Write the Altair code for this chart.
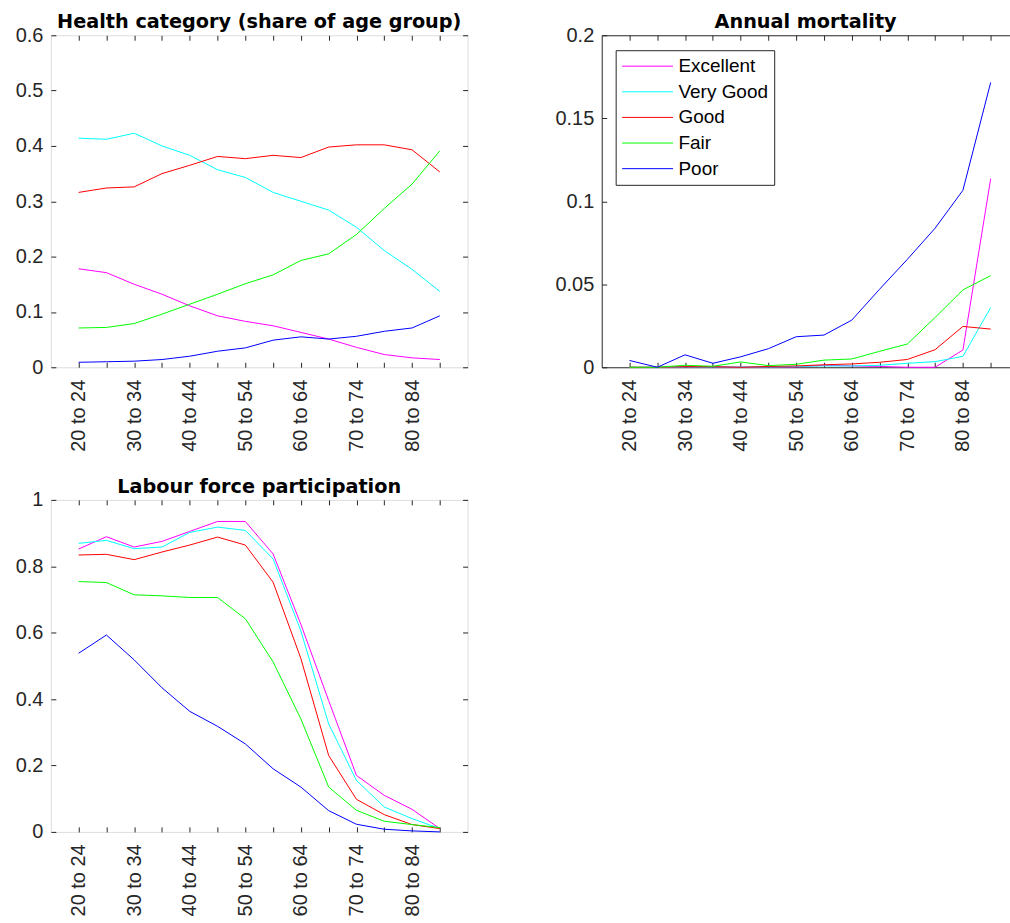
import altair as alt
import pandas as pd

# Age groups on the x axis (one point per group)
age_groups = ["20 to 24", "25 to 29", "30 to 34", "35 to 39", "40 to 44", "45 to 49",
              "50 to 54", "55 to 59", "60 to 64", "65 to 69", "70 to 74", "75 to 79",
              "80 to 84", "85 to 89"]
health_levels = ["Excellent", "Very Good", "Good", "Fair", "Poor"]
line_colors = ["#ff00ff", "#00ffff", "#ff0000", "#00ff00", "#0000ff"]

# Health category, share of each age group
share_excellent = [0.178, 0.171, 0.150, 0.132, 0.111, 0.093, 0.083, 0.075, 0.063, 0.051, 0.036, 0.023, 0.017, 0.014]
share_very_good = [0.414, 0.412, 0.423, 0.400, 0.383, 0.357, 0.343, 0.316, 0.300, 0.284, 0.253, 0.211, 0.177, 0.137]
share_good = [0.316, 0.324, 0.326, 0.350, 0.365, 0.381, 0.377, 0.383, 0.379, 0.398, 0.402, 0.402, 0.393, 0.353]
share_fair = [0.071, 0.072, 0.079, 0.096, 0.114, 0.132, 0.151, 0.167, 0.193, 0.205, 0.240, 0.287, 0.331, 0.391]
share_poor = [0.009, 0.010, 0.011, 0.014, 0.020, 0.029, 0.035, 0.049, 0.055, 0.051, 0.056, 0.065, 0.071, 0.093]

# Annual mortality rate
mort_excellent = [0.0, 0.0, 0.0003, 0.0003, 0.0, 0.0003, 0.0002, 0.0012, 0.0008, 0.0005, 0.0, 0.0, 0.0104, 0.1136]
mort_very_good = [0.0, 0.0, 0.0003, 0.0003, 0.0002, 0.0003, 0.0005, 0.0008, 0.0008, 0.0012, 0.0024, 0.0034, 0.0066, 0.0360]
mort_good = [0.0, 0.0, 0.0004, 0.0004, 0.0, 0.0005, 0.0008, 0.0015, 0.0020, 0.0030, 0.0047, 0.0106, 0.0246, 0.0230]
mort_fair = [0.0, 0.0, 0.0012, 0.0006, 0.0032, 0.0010, 0.0018, 0.0043, 0.0050, 0.0096, 0.0140, 0.0300, 0.0466, 0.0552]
mort_poor = [0.0041, 0.0, 0.0075, 0.0024, 0.0063, 0.0112, 0.0184, 0.0194, 0.0284, 0.0470, 0.0650, 0.0838, 0.1066, 0.1716]

# Labour force participation rate
lfp_excellent = [0.852, 0.889, 0.858, 0.875, 0.905, 0.935, 0.935, 0.837, 0.625, 0.395, 0.170, 0.110, 0.068, 0.010]
lfp_very_good = [0.869, 0.878, 0.853, 0.858, 0.902, 0.918, 0.908, 0.822, 0.605, 0.325, 0.155, 0.075, 0.040, 0.010]
lfp_good = [0.834, 0.836, 0.820, 0.843, 0.864, 0.888, 0.864, 0.752, 0.522, 0.230, 0.098, 0.052, 0.022, 0.010]
lfp_fair = [0.754, 0.751, 0.714, 0.711, 0.706, 0.706, 0.642, 0.512, 0.340, 0.135, 0.065, 0.032, 0.022, 0.013]
lfp_poor = [0.538, 0.593, 0.518, 0.434, 0.363, 0.318, 0.265, 0.190, 0.135, 0.064, 0.023, 0.008, 0.003, 0.000]

FONT = "Liberation Sans"
TITLE_FONT = "DejaVu Sans"
INK = "#262626"
W, H = 418, 333
N = len(age_groups)
STEP = W / (N + 1)          # pixels per age group
W_RIGHT = 409               # right-hand panel runs to the page edge


def long_table(series):
    rows = []
    for level, values in zip(health_levels, series):
        for i, v in enumerate(values):
            rows.append({"idx": i + 1, "level": level, "value": v})
    return pd.DataFrame(rows)


label_expr = "[" + ",".join("'%s'" % a for a in age_groups) + "][datum.value - 1]"


def x_label_axis(frame_lines):
    return alt.Axis(orient="bottom", values=list(range(1, N + 1, 2)), labelExpr=label_expr,
                    labelAngle=270, labelPadding=12, ticks=False, domain=frame_lines,
                    domainColor=INK, domainWidth=1, grid=False, title=None,
                    labelFont=FONT, labelFontSize=20, labelColor=INK)


def tick_axis(orient, values):
    # inward-pointing tick marks, drawn inside the plot frame
    return alt.Axis(orient=orient, values=values, labels=False, ticks=True, tickSize=5, offset=-5,
                    tickColor=INK, tickWidth=1, domain=False, grid=False, title=None,
                    minExtent=0, maxExtent=0)


def panel(series, title, y_ticks, y_top, width=W, legend=None, open_right=False):
    df = long_table(series)
    x_scale = alt.Scale(domain=[0, width / STEP], nice=False, zero=False)
    y_scale = alt.Scale(domain=[0, y_top], nice=False, zero=False)
    y_label_axis = alt.Axis(orient="left", values=y_ticks, format="~g", labelPadding=8, ticks=False,
                            domain=open_right, domainColor=INK, domainWidth=1, grid=False,
                            title=None, labelFont=FONT, labelFontSize=20, labelColor=INK)
    lines = alt.Chart(df).mark_line(strokeWidth=1).encode(
        x=alt.X("idx:Q", scale=x_scale, axis=x_label_axis(open_right)),
        y=alt.Y("value:Q", scale=y_scale, axis=y_label_axis),
        color=alt.Color("level:N", sort=health_levels,
                        scale=alt.Scale(domain=health_levels, range=line_colors),
                        legend=legend),
    )
    ticks_bl = alt.Chart(df).mark_line(opacity=0).encode(
        x=alt.X("idx:Q", scale=x_scale, axis=tick_axis("bottom", list(range(1, N + 1)))),
        y=alt.Y("value:Q", scale=y_scale, axis=tick_axis("left", y_ticks)),
        detail="level:N",
    )
    ticks_tr = alt.Chart(df).mark_line(opacity=0).encode(
        x=alt.X("idx:Q", scale=x_scale, axis=tick_axis("top", list(range(1, N + 1)))),
        y=alt.Y("value:Q", scale=y_scale,
                axis=None if open_right else tick_axis("right", y_ticks)),
        detail="level:N",
    )
    layers = [lines, ticks_bl, ticks_tr]
    if open_right:
        # frame drawn from axis lines: bottom, left and top, open on the right
        top_line = alt.Chart(df).mark_line(opacity=0).encode(
            x=alt.X("idx:Q", scale=x_scale,
                    axis=alt.Axis(orient="top", labels=False, ticks=False, domain=True,
                                  domainColor=INK, domainWidth=1, grid=False, title=None,
                                  minExtent=0, maxExtent=0)),
            y=alt.Y("value:Q", scale=y_scale, axis=None),
            detail="level:N",
        )
        layers.append(top_line)
    out = alt.layer(*layers).resolve_axis(x="independent", y="independent").properties(
        width=width, height=H,
        title=alt.Title(title, font=TITLE_FONT, fontSize=19.3, fontWeight="bold", color="#000000",
                        frame="group", anchor="middle", baseline="alphabetic", offset=-22),
    )
    if open_right:
        out = out.properties(view=alt.ViewBackground(stroke="transparent"))
    return out


legend = alt.Legend(orient="none", legendX=14, legendY=15, title=None, symbolType="stroke",
                    symbolSize=2601, symbolStrokeWidth=1, labelFont=FONT, labelFontSize=19,
                    labelColor="#000000", fillColor="#ffffff", strokeColor=INK, padding=6,
                    rowPadding=5.7, clipHeight=20, labelOffset=5)

p_health = panel([share_excellent, share_very_good, share_good, share_fair, share_poor],
                 "Health category (share of age group)", [0, 0.1, 0.2, 0.3, 0.4, 0.5, 0.6], 0.6)
p_mort = panel([mort_excellent, mort_very_good, mort_good, mort_fair, mort_poor],
               "Annual mortality", [0, 0.05, 0.1, 0.15, 0.2], 0.2, width=W_RIGHT,
               legend=legend, open_right=True)
p_lfp = panel([lfp_excellent, lfp_very_good, lfp_good, lfp_fair, lfp_poor],
              "Labour force participation", [0, 0.2, 0.4, 0.6, 0.8, 1], 1.0)

top_row = alt.hconcat(p_health, p_mort, spacing=85.5).resolve_legend(color="independent")

chart = alt.vconcat(top_row, p_lfp, spacing=25).properties(
    padding={"left": 14, "top": 11, "right": 0, "bottom": 0}
).configure_view(stroke=INK, strokeWidth=1).configure(background="#ffffff")

chart.save("out.html", embed_options={"renderer": "svg", "actions": False})
